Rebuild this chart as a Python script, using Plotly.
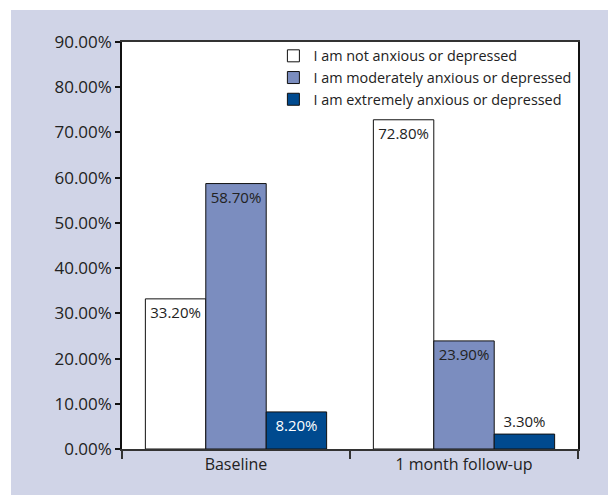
import plotly.graph_objects as go

# Survey responses: share of patients in each anxiety/depression category
categories = ["Baseline", "1 month follow-up"]
series_names = [
    "I am not anxious or depressed",
    "I am moderately anxious or depressed",
    "I am extremely anxious or depressed",
]
not_anxious = [33.2, 72.8]
moderately_anxious = [58.7, 23.9]
extremely_anxious = [8.2, 3.3]

y_ticks = [0, 10, 20, 30, 40, 50, 60, 70, 80, 90]
y_tick_labels = [f"{v:.2f}%" for v in y_ticks]

bar_colors = ["#ffffff", "#7b8dbf", "#004a8f"]
text_colors = ["#222222", "#222222", "#ffffff"]
FONT = "Open Sans"

fig = go.Figure()
for name, vals, col, tcol in zip(
    series_names,
    [not_anxious, moderately_anxious, extremely_anxious],
    bar_colors,
    text_colors,
):
    fig.add_trace(
        go.Bar(
            x=categories,
            y=vals,
            name=name,
            marker=dict(color=col, line=dict(color="#111111", width=1)),
            texttemplate="%{y:.2f}%",
            textposition="auto",
            insidetextanchor="end",
            insidetextfont=dict(family=FONT, size=15, color=tcol),
            outsidetextfont=dict(family=FONT, size=15, color="#222222"),
            cliponaxis=False,
        )
    )

fig.update_layout(
    width=608,
    height=495,
    margin=dict(l=122, r=30, t=42, b=46),
    paper_bgcolor="#d0d4e7",
    plot_bgcolor="#ffffff",
    barmode="group",
    bargap=0.205,
    bargroupgap=0,
    font=dict(family=FONT, color="#222222"),
    showlegend=True,
    legend=dict(
        x=0.332,
        y=1.005,
        xanchor="left",
        yanchor="top",
        bgcolor="rgba(0,0,0,0)",
        font=dict(family=FONT, size=14.4, color="#222222"),
        tracegroupgap=0,
        itemclick=False,
    ),
    xaxis=dict(
        type="category",
        showline=True,
        linecolor="#333333",
        linewidth=1.5,
        mirror=True,
        ticks="outside",
        tickson="boundaries",
        ticklen=8,
        tickwidth=1.5,
        tickcolor="#333333",
        tickfont=dict(family=FONT, size=16, color="#222222"),
        showgrid=False,
    ),
    yaxis=dict(
        range=[0, 90],
        tickmode="array",
        tickvals=y_ticks,
        ticktext=y_tick_labels,
        showline=True,
        linecolor="#111111",
        linewidth=1.5,
        mirror=True,
        ticks="outside",
        ticklen=5,
        tickwidth=1.5,
        tickcolor="#111111",
        tickfont=dict(family=FONT, size=17, color="#222222"),
        showgrid=False,
        zeroline=False,
    ),
    shapes=[
        # white strips along the left and top edges of the page
        dict(type="rect", xref="paper", yref="paper", x0=-0.4, x1=-0.2434,
             y0=-0.3, y1=1.3, fillcolor="#ffffff", line=dict(width=0), layer="below"),
        dict(type="rect", xref="paper", yref="paper", x0=-0.4, x1=1.3,
             y0=1.0786, y1=1.3, fillcolor="#ffffff", line=dict(width=0), layer="below"),
    ],
)

fig.write_html("out.html")
